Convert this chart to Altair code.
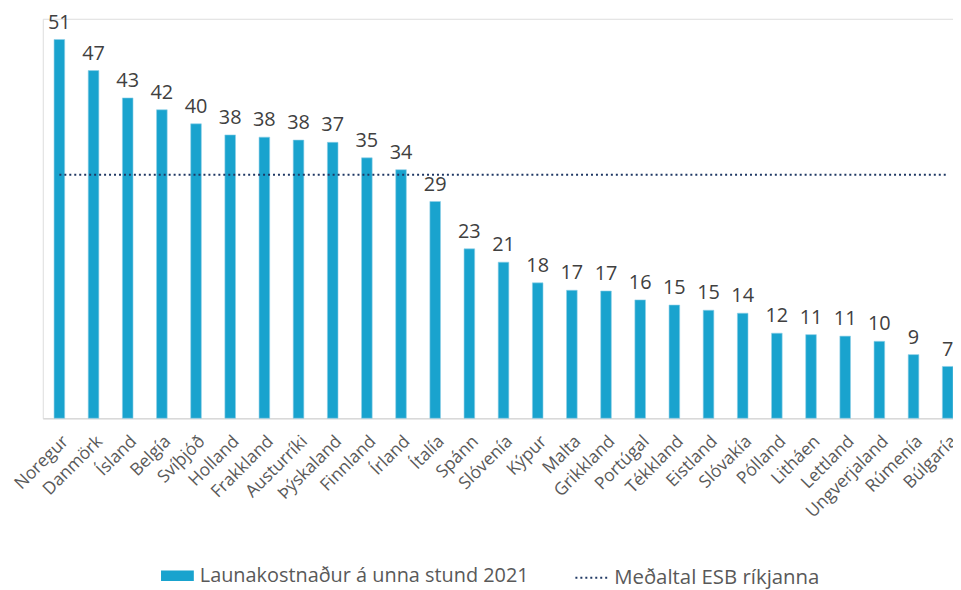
import altair as alt
import pandas as pd

countries = ["Noregur", "Danmörk", "Ísland", "Belgía", "Svíþjóð", "Holland", "Frakkland",
             "Austurríki", "Þýskaland", "Finnland", "Írland", "Ítalía", "Spánn", "Slóvenía",
             "Kýpur", "Malta", "Grikkland", "Portúgal", "Tékkland", "Eistland", "Slóvakía",
             "Pólland", "Litháen", "Lettland", "Ungverjaland", "Rúmenía", "Búlgaría"]
values = [51.2, 47.0, 43.3, 41.7, 39.8, 38.3, 38.0, 37.6, 37.3, 35.2, 33.6, 29.3, 22.9, 21.1,
          18.3, 17.3, 17.2, 16.0, 15.3, 14.6, 14.2, 11.5, 11.3, 11.1, 10.4, 8.6, 7.0]
eu_average = 32.9

bar_series = "Launakostnaður á unna stund 2021"
line_series = "Meðaltal ESB ríkjanna"

df = pd.DataFrame({
    "country": countries,
    "value": values,
    "avg": [eu_average] * len(countries),
    "s1": [bar_series] * len(countries),
    "s2": [line_series] * len(countries),
})

FONT = "Open Sans"

x_enc = alt.X(
    "country:N", sort=countries,
    scale=alt.Scale(paddingInner=0.689, paddingOuter=0.165, align=1),
    axis=alt.Axis(title=None, labelAngle=-45, labelAlign="right", labelBaseline="top",
                  labelFontSize=17.5, labelColor="#595959", labelFont=FONT,
                  ticks=False, domainColor="#d9d9d9", domainWidth=1.5,
                  labelPadding=14, labelOverlap=False, labelBound=False, labelLimit=0),
)

base = alt.Chart(df)

bars = base.mark_bar(stroke="#8fd0e8", strokeWidth=0.6).encode(
    x=x_enc,
    y=alt.Y("value:Q", scale=alt.Scale(domain=[0, 54], nice=False), axis=None),
    fill=alt.Fill("s1:N", scale=alt.Scale(domain=[bar_series], range=["#19A3CE"]),
                  legend=alt.Legend(title=None, orient="none", legendX=119, legendY=544,
                                    symbolType="M-1,-0.32H1V0.32H-1Z", symbolSize=1089,
                                    symbolStrokeWidth=0, labelFontSize=20, labelColor="#595959",
                                    labelFont=FONT, labelOffset=6, padding=0, labelLimit=0)),
)

labels = base.mark_text(baseline="alphabetic", dy=-11, fontSize=20, color="#404040", font=FONT).encode(
    x=alt.X("country:N", sort=countries),
    y=alt.Y("value:Q"),
    text=alt.Text("value:Q", format=".0f"),
)

line = base.mark_line(strokeDash=[2, 3], strokeWidth=2).encode(
    x=alt.X("country:N", sort=countries),
    y=alt.Y("avg:Q"),
    stroke=alt.Stroke("s2:N", scale=alt.Scale(domain=[line_series], range=["#1F3864"]),
                      legend=alt.Legend(title=None, orient="none", legendX=535, legendY=544,
                                        symbolType="stroke", symbolSize=1225, symbolStrokeWidth=2,
                                        symbolDash=[2, 3], labelFontSize=20.5, labelColor="#595959",
                                        labelFont=FONT, labelOffset=3, padding=0, labelLimit=0)),
)

chart = alt.layer(bars, line, labels).resolve_scale(fill="independent", stroke="independent").properties(
    width=916, height=402,
    autosize=alt.AutoSizeParams(type="none"),
    padding={"left": 35, "top": 9, "right": 0, "bottom": 171},
).configure_view(stroke=None).configure(font=FONT)

chart.save("out.html", embed_options={"renderer": "svg", "actions": False})
